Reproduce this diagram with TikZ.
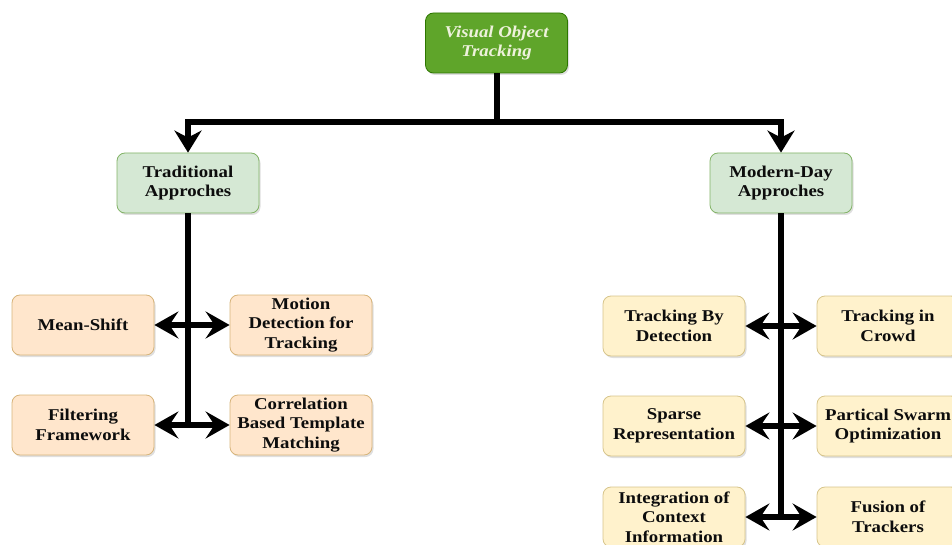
\documentclass[tikz,border=0pt]{standalone}
\usepackage{fontspec}
\setmainfont{Liberation Serif}[FakeStretch=1.14]
\usetikzlibrary{arrows.meta,shadows}
\definecolor{topfill}{HTML}{5FA52A}
\definecolor{topdraw}{HTML}{2D7600}
\definecolor{toptext}{HTML}{EEF2DC}
\definecolor{midfill}{HTML}{D5E8D4}
\definecolor{middraw}{HTML}{82B366}
\definecolor{lfill}{HTML}{FFE6CC}
\definecolor{ldraw}{HTML}{D7B47A}
\definecolor{rfill}{HTML}{FFF2CC}
\definecolor{rdraw}{HTML}{D6C48A}
\tikzset{
  box/.style={rounded corners=8pt, minimum width=142pt, minimum height=60pt,
    align=center, inner sep=2pt, line width=0.8pt,
    font=\fontsize{16.5}{19.5}\selectfont\bfseries, text=black!95,
    drop shadow={opacity=0.25, shadow xshift=1.5pt, shadow yshift=-2pt}},
  topbox/.style={box, fill=topfill, draw=topdraw, text=toptext,
    font=\fontsize{16.5}{19.5}\selectfont\bfseries\itshape},
  midbox/.style={box, fill=midfill, draw=middraw},
  lbox/.style={box, fill=lfill, draw=ldraw},
  rbox/.style={box, fill=rfill, draw=rdraw},
  conn/.style={line width=6pt, black},
  tip/.style={-{Stealth[length=22pt,width=27pt,inset=7pt]}},
  tips/.style={{Stealth[length=24pt,width=27pt,inset=9pt]}-{Stealth[length=24pt,width=27pt,inset=9pt]}}
}
\begin{document}
\begin{tikzpicture}[x=1pt,y=-1pt]
\useasboundingbox (0,0) rectangle (952,545);
\clip (0,0) rectangle (952,545);
\node[topbox] (top) at (496.5,43) {Visual Object\\Tracking};
\node[midbox] (trad) at (188,183) {Traditional\\Approches};
\node[midbox] (mod) at (781,183) {Modern-Day\\Approches};
\node[lbox] (ms) at (83,325) {Mean-Shift};
\node[lbox] (md) at (301,325) {Motion\\Detection for\\Tracking};
\node[lbox] (ff) at (83,425) {Filtering\\Framework};
\node[lbox] (cb) at (301,425) {Correlation\\Based Template\\Matching};
\node[rbox] (tbd) at (674,326) {Tracking By\\Detection};
\node[rbox] (tic) at (888,326) {Tracking in\\Crowd};
\node[rbox] (sr) at (674,426) {Sparse\\Representation};
\node[rbox] (pso) at (888,426) {Partical Swarm\\Optimization};
\node[rbox] (ici) at (674,517) {Integration of\\Context\\Information};
\node[rbox] (fot) at (888,517) {Fusion of\\Trackers};
\coordinate (j) at (496.5,122);
\draw[conn] (top.south) -- (j);
\draw[conn,tip] (j) -| (trad.north);
\draw[conn,tip] (j) -| (mod.north);
\draw[conn] (trad.south) -- (trad.south |- ff.east);
\draw[conn] (mod.south) -- (mod.south |- ici.east);
\draw[conn,tips] (ms.east) -- (md.west);
\draw[conn,tips] (ff.east) -- (cb.west);
\draw[conn,tips] (tbd.east) -- (tic.west);
\draw[conn,tips] (sr.east) -- (pso.west);
\draw[conn,tips] (ici.east) -- (fot.west);
\end{tikzpicture}
\end{document}
